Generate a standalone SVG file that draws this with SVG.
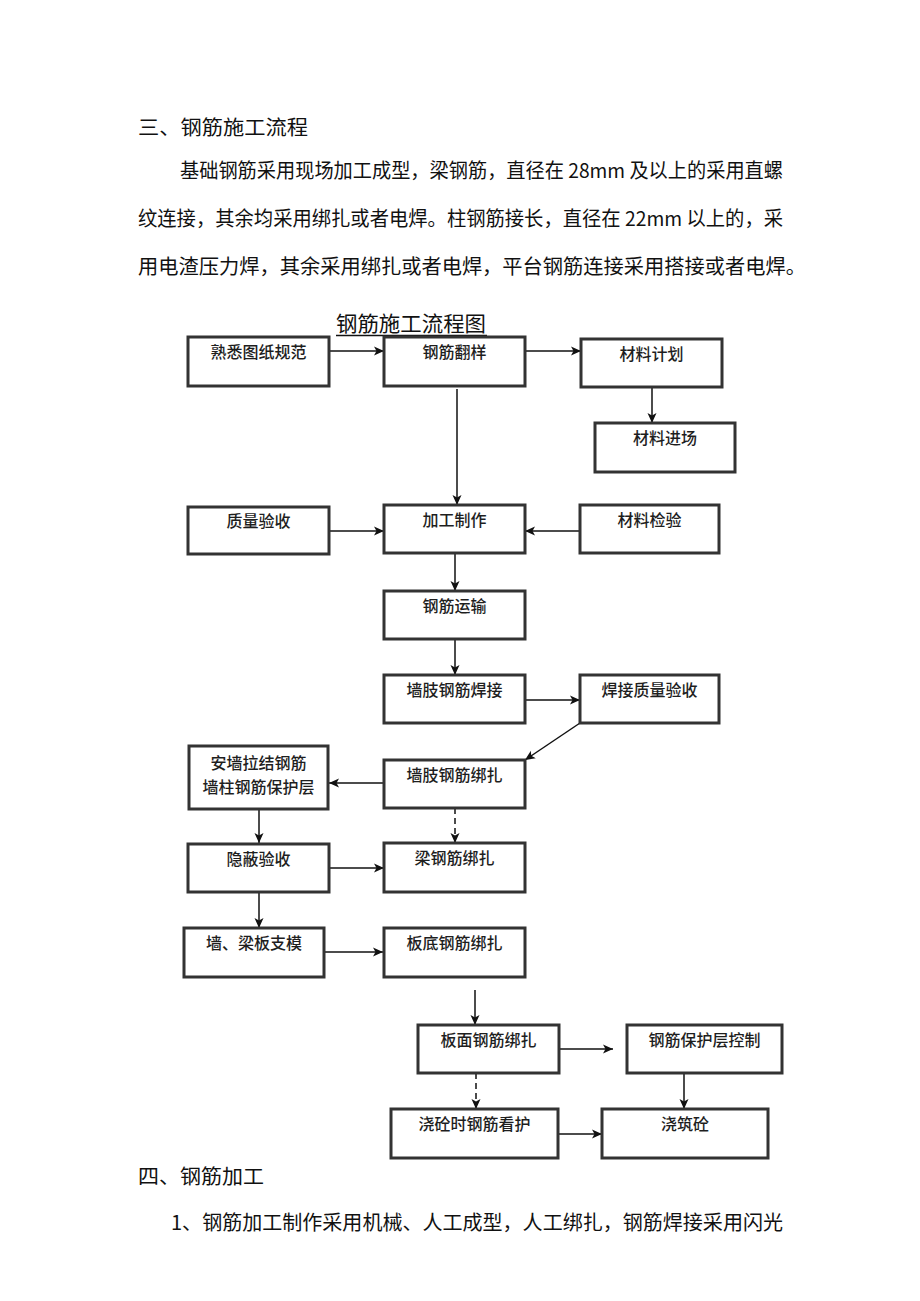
<svg xmlns="http://www.w3.org/2000/svg" width="920" height="1301" viewBox="0 0 920 1301">
<defs>
<marker id="arr" markerWidth="12" markerHeight="12" refX="10" refY="6" orient="auto" markerUnits="userSpaceOnUse">
<path d="M0,1.5 L10,6 L0,10.5 L2.5,6 Z" fill="#111"/>
</marker>
</defs>
<style>
.para{font-family:"Noto Sans CJK SC","Noto Sans CJK JP",sans-serif;font-size:20px;fill:#111}
.title{font-family:"Noto Sans CJK SC","Noto Sans CJK JP",sans-serif;font-size:21px;fill:#111;text-anchor:middle}
.box{fill:#fff;stroke:#333;stroke-width:3}
.lbl{font-family:"Noto Sans CJK SC","Noto Sans CJK JP",sans-serif;font-size:16px;font-weight:500;fill:#1e1e1e;text-anchor:middle}
.ln{fill:none;stroke:#111;stroke-width:1.5;marker-end:url(#arr)}
.dash{stroke-dasharray:6 4}
</style>
<rect width="920" height="1301" fill="#fff"/>

<g id="text-top">
<text class="para" x="138" y="135" textLength="170" lengthAdjust="spacingAndGlyphs">三、钢筋施工流程</text>
<text class="para" x="180" y="178" textLength="603" lengthAdjust="spacingAndGlyphs">基础钢筋采用现场加工成型，梁钢筋，直径在 28mm 及以上的采用直螺</text>
<text class="para" x="138" y="226" textLength="645" lengthAdjust="spacingAndGlyphs">纹连接，其余均采用绑扎或者电焊。柱钢筋接长，直径在 22mm 以上的，采</text>
<text class="para" x="138" y="274" textLength="668" lengthAdjust="spacingAndGlyphs">用电渣压力焊，其余采用绑扎或者电焊，平台钢筋连接采用搭接或者电焊。</text>
</g>

<g id="title">
<text class="title" x="411" y="331" textLength="150" lengthAdjust="spacingAndGlyphs">钢筋施工流程图</text>
<line x1="336" y1="335.5" x2="487" y2="335.5" stroke="#111" stroke-width="1.5"/>
</g>

<g id="connectors">
<line class="ln" x1="329" y1="351" x2="384" y2="351"/>
<line class="ln" x1="525" y1="351" x2="581" y2="351"/>
<line class="ln" x1="652" y1="388" x2="652" y2="423"/>
<line class="ln" x1="457" y1="389" x2="457" y2="505"/>
<line class="ln" x1="329" y1="531" x2="384" y2="531"/>
<line class="ln" x1="580" y1="531" x2="525" y2="531"/>
<line class="ln" x1="455" y1="553" x2="455" y2="591"/>
<line class="ln" x1="455" y1="639" x2="455" y2="675"/>
<line class="ln" x1="525" y1="700" x2="580" y2="700"/>
<line class="ln" x1="580" y1="723" x2="525" y2="760"/>
<line class="ln" x1="384" y1="783" x2="329" y2="783"/>
<line class="ln" x1="259" y1="809" x2="259" y2="843"/>
<line class="ln dash" x1="455" y1="808" x2="455" y2="843"/>
<line class="ln" x1="329" y1="868" x2="384" y2="868"/>
<line class="ln" x1="259" y1="892" x2="259" y2="928"/>
<line class="ln" x1="324" y1="952" x2="383" y2="952"/>
<line class="ln" x1="475" y1="990" x2="475" y2="1025"/>
<line class="ln" x1="559" y1="1049" x2="613" y2="1049"/>
<line class="ln" x1="684" y1="1073" x2="684" y2="1109"/>
<line class="ln dash" x1="476" y1="1073" x2="476" y2="1109"/>
<line class="ln" x1="558" y1="1134" x2="602" y2="1134"/>
</g>

<g id="n1"><rect class="box" x="188" y="337" width="141" height="49"/><text class="lbl" x="258.5" y="358">熟悉图纸规范</text></g>
<g id="n2"><rect class="box" x="384" y="337" width="141" height="49"/><text class="lbl" x="454.5" y="358">钢筋翻样</text></g>
<g id="n3"><rect class="box" x="581" y="339" width="141" height="48"/><text class="lbl" x="651.5" y="360">材料计划</text></g>
<g id="n4"><rect class="box" x="595" y="423" width="140" height="49"/><text class="lbl" x="665" y="444">材料进场</text></g>
<g id="n5"><rect class="box" x="188" y="507" width="141" height="47"/><text class="lbl" x="258.5" y="527">质量验收</text></g>
<g id="n6"><rect class="box" x="384" y="505" width="141" height="48"/><text class="lbl" x="454.5" y="526">加工制作</text></g>
<g id="n7"><rect class="box" x="580" y="505" width="139" height="48"/><text class="lbl" x="649.5" y="526">材料检验</text></g>
<g id="n8"><rect class="box" x="384" y="591" width="141" height="48"/><text class="lbl" x="454.5" y="612">钢筋运输</text></g>
<g id="n9"><rect class="box" x="384" y="675" width="141" height="48"/><text class="lbl" x="454.5" y="696">墙肢钢筋焊接</text></g>
<g id="n10"><rect class="box" x="580" y="675" width="139" height="48"/><text class="lbl" x="649.5" y="696">焊接质量验收</text></g>
<g id="n11"><rect class="box" x="189" y="746" width="139" height="63"/><text class="lbl" x="258.5" y="769">安墙拉结钢筋</text><text class="lbl" x="258.5" y="793">墙柱钢筋保护层</text></g>
<g id="n12"><rect class="box" x="384" y="760" width="141" height="48"/><text class="lbl" x="454.5" y="781">墙肢钢筋绑扎</text></g>
<g id="n13"><rect class="box" x="188" y="844" width="141" height="48"/><text class="lbl" x="258.5" y="865">隐蔽验收</text></g>
<g id="n14"><rect class="box" x="384" y="843" width="141" height="49"/><text class="lbl" x="454.5" y="864">梁钢筋绑扎</text></g>
<g id="n15"><rect class="box" x="184" y="928" width="140" height="49"/><text class="lbl" x="254" y="949">墙、梁板支模</text></g>
<g id="n16"><rect class="box" x="384" y="928" width="141" height="49"/><text class="lbl" x="454.5" y="949">板底钢筋绑扎</text></g>
<g id="n17"><rect class="box" x="418" y="1025" width="141" height="48"/><text class="lbl" x="488.5" y="1046">板面钢筋绑扎</text></g>
<g id="n18"><rect class="box" x="627" y="1025" width="155" height="48"/><text class="lbl" x="704.5" y="1046">钢筋保护层控制</text></g>
<g id="n19"><rect class="box" x="391" y="1109" width="167" height="49"/><text class="lbl" x="474.5" y="1130">浇砼时钢筋看护</text></g>
<g id="n20"><rect class="box" x="602" y="1109" width="166" height="49"/><text class="lbl" x="685" y="1130">浇筑砼</text></g>

<g id="text-bottom">
<text class="para" x="138" y="1184" textLength="126" lengthAdjust="spacingAndGlyphs">四、钢筋加工</text>
<text class="para" x="171" y="1230" textLength="612" lengthAdjust="spacingAndGlyphs">1、钢筋加工制作采用机械、人工成型，人工绑扎，钢筋焊接采用闪光</text>
</g>
</svg>
